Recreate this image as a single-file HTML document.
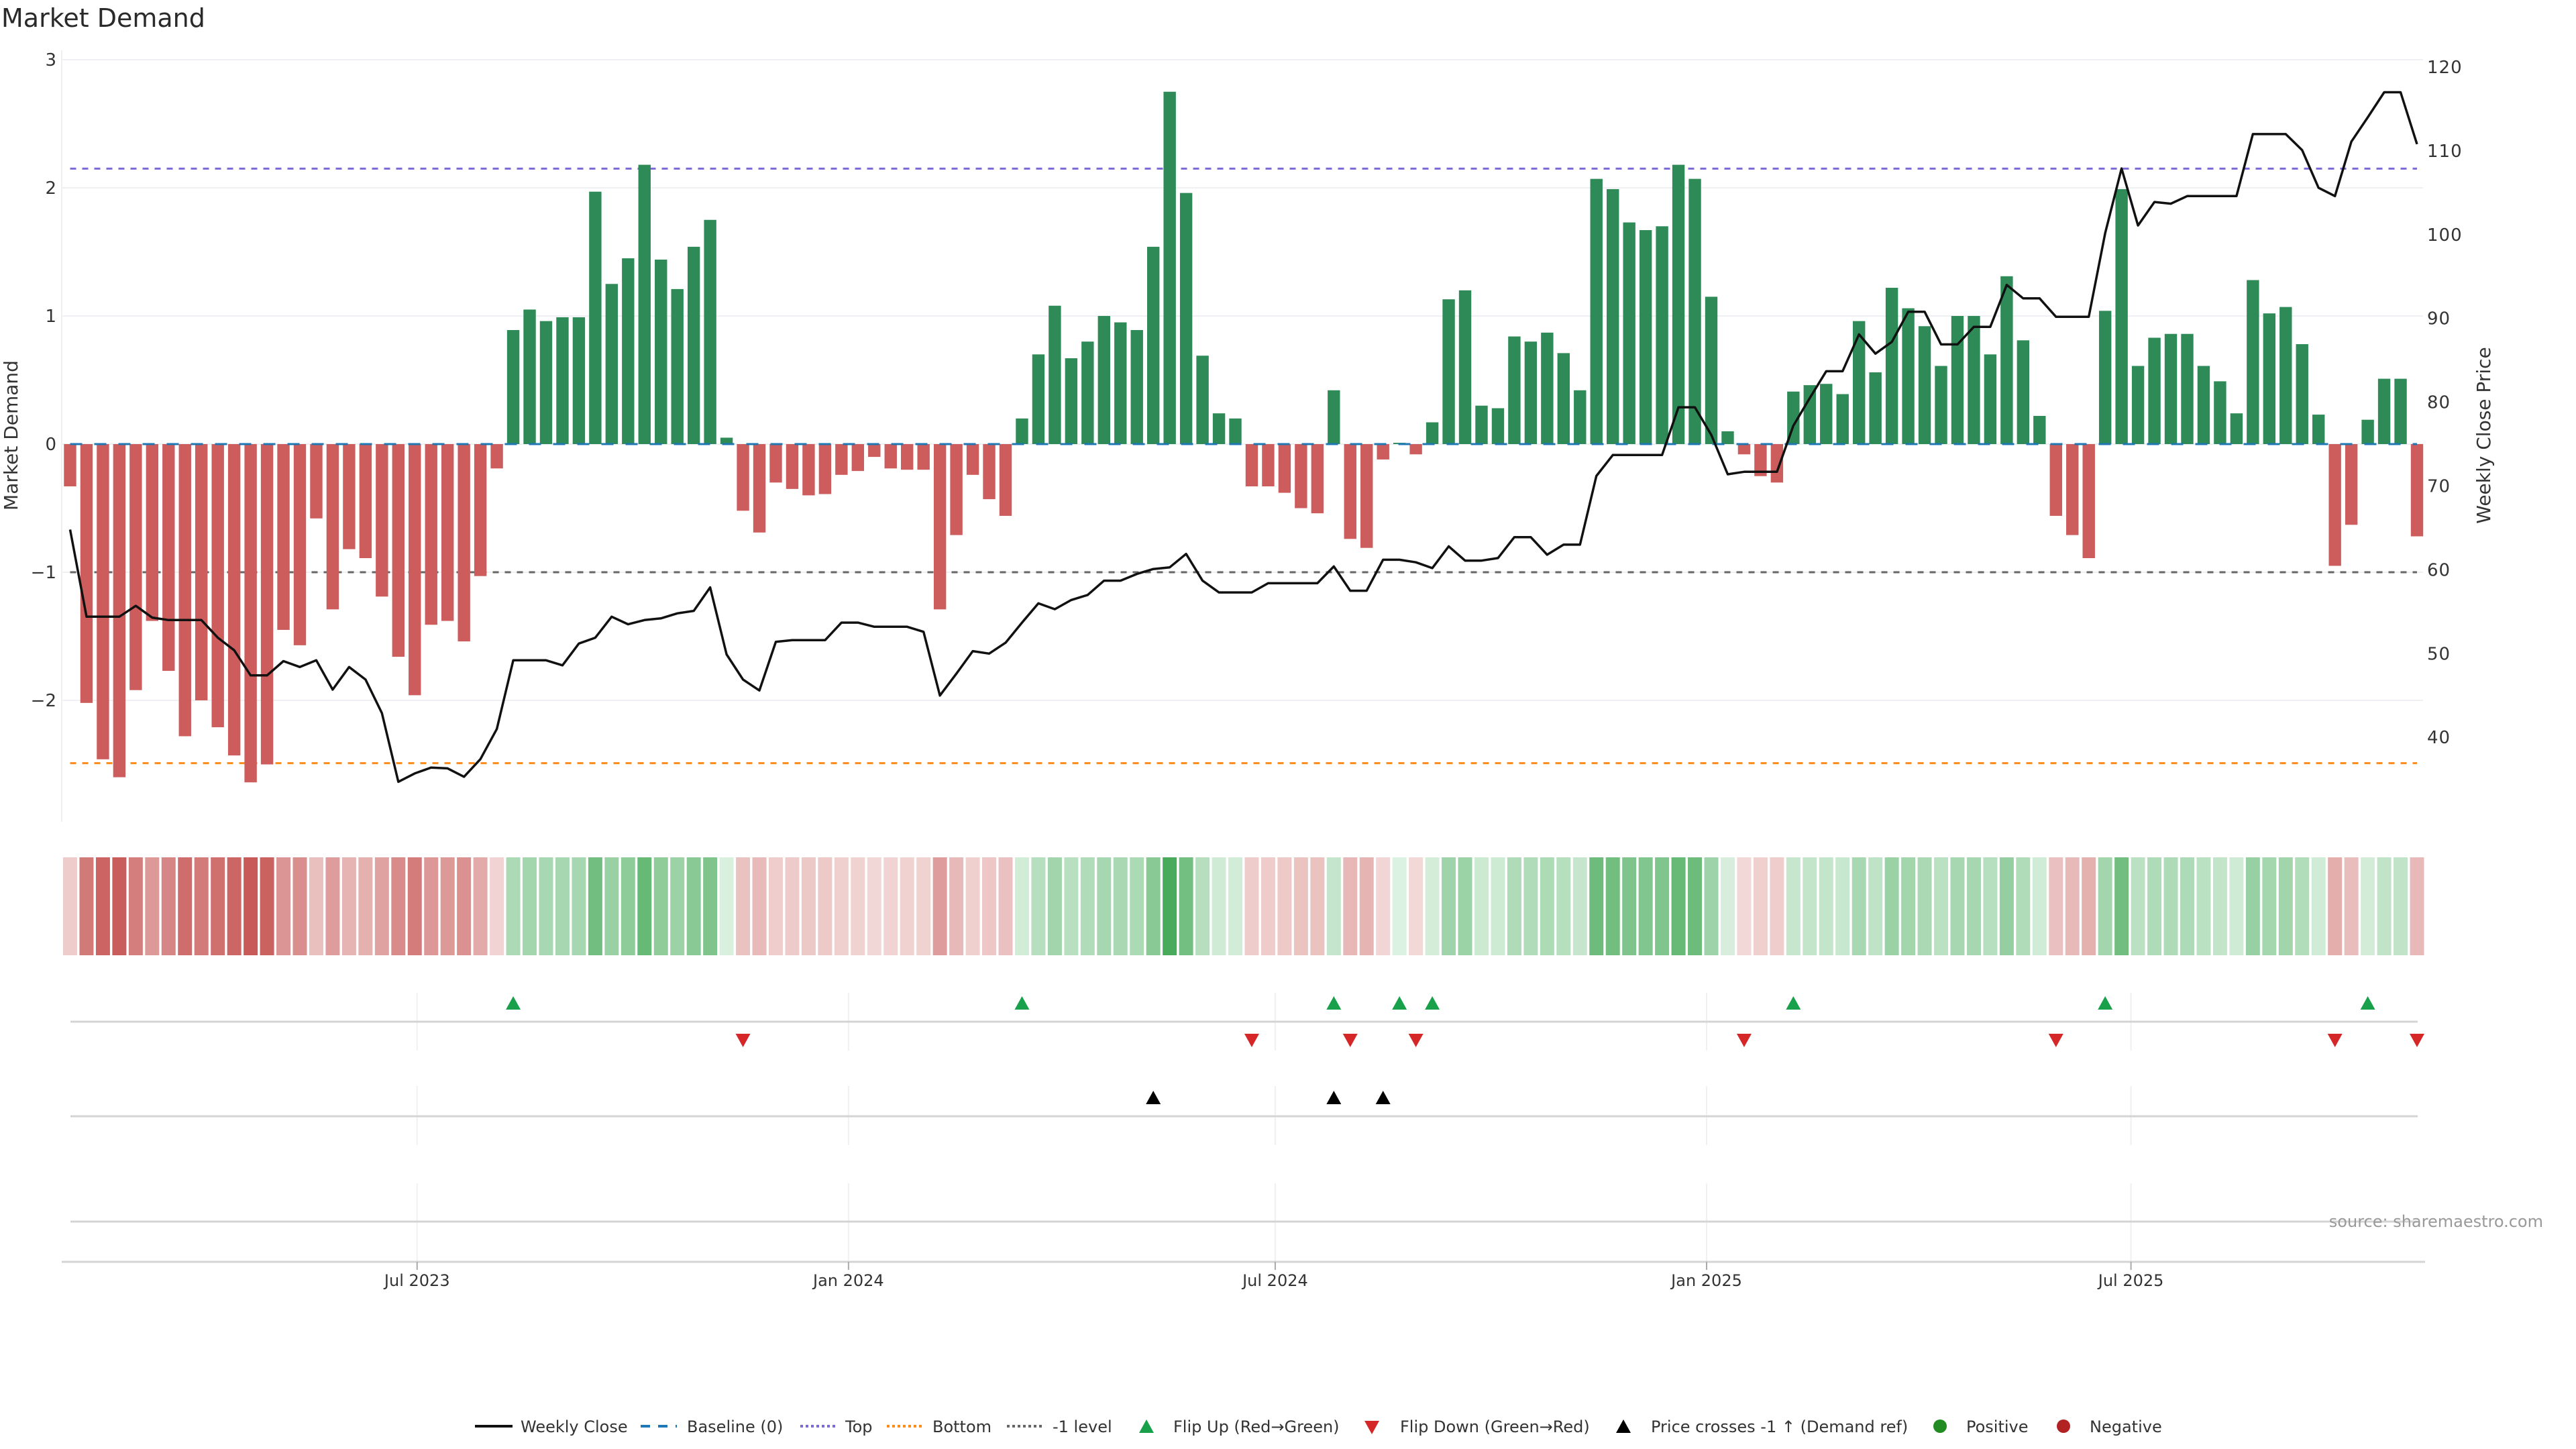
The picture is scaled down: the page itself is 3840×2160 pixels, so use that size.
<!DOCTYPE html>
<html>
<head>
<meta charset="utf-8">
<style>
html,body{margin:0;padding:0;background:#fff;}
svg{display:block;font-family:"DejaVu Sans","Liberation Sans",sans-serif;}
</style>
</head>
<body>
<svg id="chart" width="3840" height="2160" viewBox="0 0 3840 2160" xmlns="http://www.w3.org/2000/svg">
  <rect x="0" y="0" width="3840" height="2160" fill="#fff"/>
  <text x="2" y="40" font-size="38" fill="#2a2a2a">Market Demand</text>
  <g id="grid"></g>
  <g id="refs"></g>
  <g id="bars"></g>
  <g id="priceg"></g>
  <g id="heat"></g>
  <g id="markers"></g>
  <g id="axes"></g>
  <text x="0" y="0" transform="translate(26,649) rotate(-90)" text-anchor="middle" font-size="28" fill="#333">Market Demand</text>
  <text x="0" y="0" transform="translate(3712,649) rotate(-90)" text-anchor="middle" font-size="28" fill="#333">Weekly Close Price</text>
  <text x="3791" y="1829" text-anchor="end" font-size="24" fill="#999">source: sharemaestro.com</text>
  <g id="legend"></g>
</svg>
<script>
// ---- data ----
const startDate = "2023-02-03";
const weekCount = 144;
const demand = [
-0.33,-2.02,-2.46,-2.60,-1.92,-1.38,-1.77,-2.28,-2.00,-2.21,-2.43,-2.64,-2.50,-1.45,-1.57,-0.58,-1.29,-0.82,-0.89,-1.19,
-1.66,-1.96,-1.41,-1.38,-1.54,-1.03,-0.19,0.89,1.05,0.96,0.99,0.99,1.97,1.25,1.45,2.18,1.44,1.21,1.54,1.75,
0.05,-0.52,-0.69,-0.30,-0.35,-0.40,-0.39,-0.24,-0.21,-0.10,-0.19,-0.20,-0.20,-1.29,-0.71,-0.24,-0.43,-0.56,0.20,0.70,
1.08,0.67,0.80,1.00,0.95,0.89,1.54,2.75,1.96,0.69,0.24,0.20,-0.33,-0.33,-0.38,-0.50,-0.54,0.42,-0.74,-0.81,
-0.12,0.01,-0.08,0.17,1.13,1.20,0.30,0.28,0.84,0.80,0.87,0.71,0.42,2.07,1.99,1.73,1.67,1.70,2.18,2.07,
1.15,0.10,-0.08,-0.25,-0.30,0.41,0.46,0.47,0.39,0.96,0.56,1.22,1.06,0.92,0.61,1.00,1.00,0.70,1.31,0.81,
0.22,-0.56,-0.71,-0.89,1.04,1.99,0.61,0.83,0.86,0.86,0.61,0.49,0.24,1.28,1.02,1.07,0.78,0.23,-0.95,-0.63,
0.19,0.51,0.51,-0.72];
const price = [
64.8,54.4,54.4,54.4,55.7,54.3,54.0,54.0,54.0,51.9,50.4,47.4,47.4,49.1,48.4,49.2,45.7,48.4,46.9,42.9,
34.7,35.7,36.4,36.3,35.3,37.4,41.0,49.2,49.2,49.2,48.6,51.2,51.9,54.4,53.5,54.0,54.2,54.8,55.1,57.9,
49.9,46.9,45.6,51.4,51.6,51.6,51.6,53.7,53.7,53.2,53.2,53.2,52.6,45.0,47.6,50.3,50.0,51.3,53.7,56.0,
55.3,56.4,57.0,58.7,58.7,59.5,60.1,60.3,61.9,58.7,57.3,57.3,57.3,58.4,58.4,58.4,58.4,60.4,57.5,57.5,
61.2,61.2,60.9,60.2,62.8,61.1,61.1,61.4,63.9,63.9,61.8,63.0,63.0,71.2,73.7,73.7,73.7,73.7,79.4,79.4,
76.1,71.4,71.7,71.7,71.7,77.2,80.5,83.7,83.7,88.1,85.8,87.2,90.8,90.8,86.9,86.9,89.0,89.0,94.0,92.4,
92.4,90.2,90.2,90.2,100.2,107.9,101.1,103.9,103.7,104.6,104.6,104.6,104.6,112.0,112.0,112.0,110.1,105.6,104.6,111.1,
114.0,117.0,117.0,110.8];
const leftTicks = [3,2,1,0,-1,-2];
const leftTickLabels = ["3","2","1","0","\u22121","\u22122"];
const rightTicks = [120,110,100,90,80,70,60,50,40];
const xTickDates = ["2023-07-01","2024-01-01","2024-07-01","2025-01-01","2025-07-01"];
const xTickLabels = ["Jul 2023","Jan 2024","Jul 2024","Jan 2025","Jul 2025"];
const topLevel = 2.15;
const bottomLevel = -2.49;
const minusOneLevel = -1;
const priceRefLevel = 60;

// ---- scales ----
const NS = "http://www.w3.org/2000/svg";
const X0 = 104.5, PX_PER_DAY = 3.495;
const d0 = Date.parse(startDate);
function xDate(s){ return X0 + (Date.parse(s) - d0)/86400000*PX_PER_DAY; }
function xIdx(i){ return X0 + i*7*PX_PER_DAY; }
function yL(v){ return 662 - v*191; }
function yR(p){ return 100 + (120-p)*12.49; }
const PL = 92, PR = 3612;
function mk(tag, attrs, parent){
  const e = document.createElementNS(NS, tag);
  for (const k in attrs) e.setAttribute(k, attrs[k]);
  parent.appendChild(e);
  return e;
}
const grid = document.getElementById('grid');
const refs = document.getElementById('refs');
const barsG = document.getElementById('bars');
const priceG = document.getElementById('priceg');
const heatG = document.getElementById('heat');
const markG = document.getElementById('markers');
const axesG = document.getElementById('axes');
const legG = document.getElementById('legend');

leftTicks.forEach((v,i)=>{
  const g = mk('line',{x1:PL,x2:PR,y1:yL(v),y2:yL(v),stroke:'#eef0f4','stroke-width':2},grid);
  
  
  const t = mk('text',{x:84,y:yL(v)+9,'text-anchor':'end','font-size':26,fill:'#333'},axesG);
  t.textContent = leftTickLabels[i];
  
  
});
const la = mk('line',{x1:PL,x2:PL,y1:75,y2:1225,stroke:'#eef0f4','stroke-width':2},grid);


rightTicks.forEach(p=>{
  const t = mk('text',{x:3618,y:yR(p)+9,'font-size':26,fill:'#333','letter-spacing':'1'},axesG);
  t.textContent = String(p);
  
  
});

demand.forEach((v,i)=>{
  const x = xIdx(i), y0 = yL(0), y1 = yL(v);
  const r = mk('rect',{x:x-9.2,y:Math.min(y0,y1),width:18.4,height:Math.max(Math.abs(y1-y0),0.5),fill:v>=0?'#2e8b57':'#cd5c5c'},barsG);
  
  
});

function refLine(y,color,dash,name){
  const l = mk('line',{x1:X0,x2:xIdx(weekCount-1),y1:y,y2:y,stroke:color,'stroke-width':3,'stroke-dasharray':dash},refs);
  
  
}
refLine(yL(topLevel),'#7b6bd6','9 9','top-line');
refLine(yL(bottomLevel),'#ff8c1a','9 9','bottom-line');
refLine(yL(minusOneLevel),'#666','9 9','minus-one-level-line');
const bl = mk('line',{x1:X0,x2:xIdx(weekCount-1),y1:yL(0),y2:yL(0),stroke:'#1f77b4','stroke-width':3,'stroke-dasharray':'18 18'},barsG);



const pts = price.map((p,i)=>xIdx(i).toFixed(1)+','+yR(p).toFixed(1)).join(' ');
const pl = mk('polyline',{points:pts,fill:'none',stroke:'#111','stroke-width':3.5,'stroke-linejoin':'round'},priceG);



const maxAbs = Math.max(...demand.map(Math.abs));
function mix(a,b,t){ return 'rgb('+a.map((c,k)=>Math.round(c+(b[k]-c)*t)).join(',')+')'; }
demand.forEach((v,i)=>{
  const t = Math.min(Math.abs(v)/maxAbs,1);
  const col = v>=0 ? mix([220,241,225],[72,170,90],t) : mix([243,220,219],[198,86,84],t);
  const r = mk('rect',{x:xIdx(i)-10.5,y:1278,width:21,height:146,fill:col},heatG);
  
  
});

[[1480,1566],[1619,1707],[1764,1880]].forEach(seg=>{
  xTickDates.forEach(d=>{
    const l = mk('line',{x1:xDate(d),x2:xDate(d),y1:seg[0],y2:seg[1],stroke:'#eef0f4','stroke-width':2},grid);
    
    
  });
});
[1523,1664,1821].forEach(y=>{
  const l = mk('line',{x1:105,x2:3604,y1:y,y2:y,stroke:'#d4d4d4','stroke-width':3},grid);
  
  
});
const xa = mk('line',{x1:PL,x2:3615,y1:1881,y2:1881,stroke:'#d4d4d4','stroke-width':3},axesG);


xTickDates.forEach((d,i)=>{
  const x = xDate(d);
  const tk = mk('line',{x1:x,x2:x,y1:1881,y2:1893,stroke:'#aaa','stroke-width':2},axesG);
  
  
  const t = mk('text',{x:x,y:1917,'text-anchor':'middle','font-size':24,fill:'#333'},axesG);
  t.textContent = xTickLabels[i];
  
  
});

function tri(x,y,up,color,parent){
  const h=20,w=22;
  const p = up ? `${x},${y-h/2} ${x-w/2},${y+h/2} ${x+w/2},${y+h/2}` : `${x-w/2},${y-h/2} ${x+w/2},${y-h/2} ${x},${y+h/2}`;
  return mk('polygon',{points:p,fill:color},parent);
}
for(let i=1;i<demand.length;i++){
  if(demand[i-1]<0 && demand[i]>=0){
    const m = tri(xIdx(i),1495,true,'#18a04a',markG);
    
    
  }
  if(demand[i-1]>=0 && demand[i]<0){
    const m = tri(xIdx(i),1551,false,'#d62728',markG);
    
    
  }
  if(price[i-1]<priceRefLevel && price[i]>=priceRefLevel){
    const m = tri(xIdx(i),1636,true,'#000',markG);
    
    
  }
}

const LY = 2126;
function legText(x,s,name){
  const t = mk('text',{x:x,y:LY+9,'font-size':24,fill:'#333'},legG);
  t.textContent = s;
  
  
}
function legLine(x1,x2,color,dash,w,name){
  const l = mk('line',{x1:x1,x2:x2,y1:LY,y2:LY,stroke:color,'stroke-width':w,'stroke-dasharray':dash},legG);
  
  
}
legLine(708,764,'#111','none',4,'legend-weekly-close-swatch'); legText(776,'Weekly Close','legend-weekly-close');
legLine(955,1009,'#1f77b4','14 12',4,'legend-baseline-swatch'); legText(1024,'Baseline (0)','legend-baseline');
legLine(1193,1246,'#7b6bd6','4 4',4,'legend-top-swatch'); legText(1260,'Top','legend-top');
legLine(1322,1376,'#ff8c1a','4 4',4,'legend-bottom-swatch'); legText(1390,'Bottom','legend-bottom');
legLine(1501,1555,'#666','4 4',4,'legend-minus-one-swatch'); legText(1569,'-1 level','legend-minus-one');
let m;
m = tri(1709,LY,true,'#18a04a',legG);


legText(1749,'Flip Up (Red\u2192Green)','legend-flip-up');
m = tri(2045,LY+2,false,'#d62728',legG);


legText(2087,'Flip Down (Green\u2192Red)','legend-flip-down');
m = tri(2420,LY,true,'#000',legG);


legText(2461,'Price crosses -1 \u2191 (Demand ref)','legend-price-cross');
m = mk('circle',{cx:2892,cy:LY,r:10,fill:'#228b22'},legG);


legText(2931,'Positive','legend-positive');
m = mk('circle',{cx:3076,cy:LY,r:10,fill:'#b22222'},legG);


legText(3115,'Negative','legend-negative');
</script>
</body>
</html>
